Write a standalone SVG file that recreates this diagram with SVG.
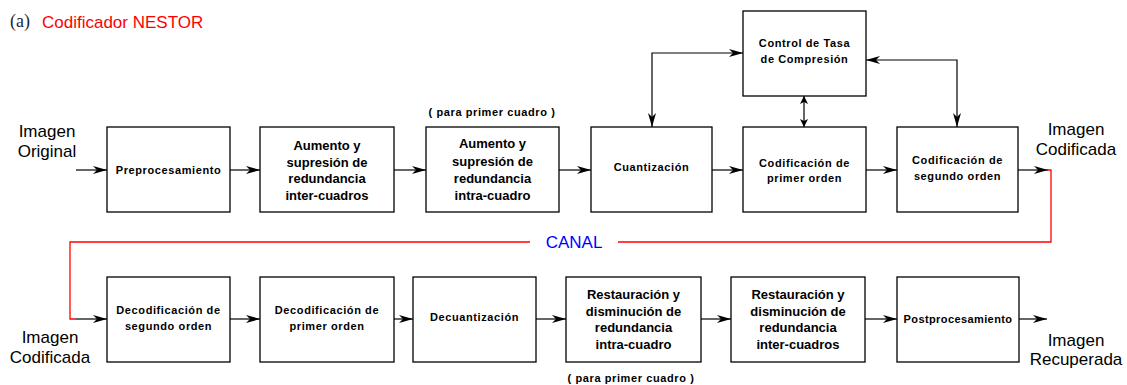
<svg xmlns="http://www.w3.org/2000/svg" width="1127" height="385" viewBox="0 0 1127 385">
<defs>
<style>
.box{fill:#fff;stroke:#000;stroke-width:1.3}
.ln{fill:none;stroke:#000;stroke-width:1.2}
.red{fill:none;stroke:#ff0000;stroke-width:1.3}
.s{font-family:"Liberation Sans",Arial,sans-serif;font-weight:bold;font-size:11px;letter-spacing:0.6px;text-anchor:middle;fill:#000}
.b{font-family:"Liberation Sans",Arial,sans-serif;font-weight:bold;font-size:13px;text-anchor:middle;fill:#000}
.lab{font-family:"Liberation Sans",Arial,sans-serif;font-size:17px;text-anchor:middle;fill:#000}
</style>
<marker id="ah" markerUnits="userSpaceOnUse" markerWidth="16" markerHeight="10" refX="14" refY="5" orient="auto-start-reverse">
<path d="M0,1 L14,5 L0,9 L4,5 z" fill="#000"/>
</marker>
<marker id="ahs" markerUnits="userSpaceOnUse" markerWidth="10" markerHeight="10" refX="8" refY="5" orient="auto-start-reverse">
<path d="M0,1 L8,5 L0,9 L2,5 z" fill="#000"/>
</marker>
</defs>
<rect width="1127" height="385" fill="#fff"/>
<text x="10" y="27" font-family="Liberation Serif,serif" font-size="18" fill="#1a2a40">(a)</text>
<text x="42" y="28" font-family="Liberation Sans,Arial,sans-serif" font-size="17" fill="#ff0000">Codificador NESTOR</text>

<g id="connectors">
<line class="ln" x1="76" y1="170" x2="107" y2="170" marker-end="url(#ah)"/>
<line class="ln" x1="230" y1="170" x2="260" y2="170" marker-end="url(#ah)"/>
<line class="ln" x1="394" y1="170" x2="426" y2="170" marker-end="url(#ah)"/>
<line class="ln" x1="559" y1="170" x2="591" y2="170" marker-end="url(#ah)"/>
<line class="ln" x1="712" y1="170" x2="743" y2="170" marker-end="url(#ah)"/>
<line class="ln" x1="866" y1="170" x2="897" y2="170" marker-end="url(#ah)"/>
<line class="ln" x1="1018" y1="170" x2="1048" y2="170" marker-end="url(#ah)"/>
<path class="ln" d="M652,127 L652,53 L743,53" marker-start="url(#ah)" marker-end="url(#ah)"/>
<path class="ln" d="M866,60 L957,60 L957,127" marker-start="url(#ah)" marker-end="url(#ah)"/>
<line class="ln" x1="804" y1="96" x2="804" y2="127" marker-start="url(#ahs)" marker-end="url(#ahs)"/>
<path class="red" d="M1047,170 L1051,170 L1051,242 L618,242"/>
<path class="red" d="M530,242 L70,242 L70,319 L76,319"/>
<line class="ln" x1="76" y1="319" x2="107" y2="319" marker-end="url(#ah)"/>
<line class="ln" x1="230" y1="319" x2="260" y2="319" marker-end="url(#ah)"/>
<line class="ln" x1="394" y1="319" x2="413" y2="319" marker-end="url(#ah)"/>
<line class="ln" x1="536" y1="319" x2="566" y2="319" marker-end="url(#ah)"/>
<line class="ln" x1="701" y1="319" x2="731" y2="319" marker-end="url(#ah)"/>
<line class="ln" x1="865" y1="319" x2="897" y2="319" marker-end="url(#ah)"/>
<line class="ln" x1="1019" y1="319" x2="1047" y2="319" marker-end="url(#ah)"/>
</g>

<text x="574" y="248" font-family="Liberation Sans,Arial,sans-serif" font-size="17" fill="#0000ff" text-anchor="middle">CANAL</text>

<g id="lbl-in">
<text class="lab" x="47" y="137">Imagen</text>
<text class="lab" x="47" y="157">Original</text>
</g>
<g id="lbl-out">
<text class="lab" x="1076" y="135">Imagen</text>
<text class="lab" x="1076" y="155">Codificada</text>
</g>
<g id="lbl-in2">
<text class="lab" x="50" y="343">Imagen</text>
<text class="lab" x="50" y="363">Codificada</text>
</g>
<g id="lbl-out2">
<text class="lab" x="1076" y="346">Imagen</text>
<text class="lab" x="1076" y="365">Recuperada</text>
</g>

<g id="n-pre">
<rect class="box" x="107" y="127" width="123" height="85"/>
<text class="s" x="168.5" y="174">Preprocesamiento</text>
</g>
<g id="n-inter">
<rect class="box" x="260" y="127" width="134" height="85"/>
<text class="b" x="327" y="150">Aumento y</text>
<text class="b" x="327" y="167">supresión de</text>
<text class="b" x="327" y="183">redundancia</text>
<text class="b" x="327" y="200">inter-cuadros</text>
</g>
<g id="n-intra">
<text class="s" x="492" y="116">( para primer cuadro )</text>
<rect class="box" x="426" y="127" width="133" height="85"/>
<text class="b" x="492.5" y="148">Aumento y</text>
<text class="b" x="492.5" y="166">supresión de</text>
<text class="b" x="492.5" y="183">redundancia</text>
<text class="b" x="492.5" y="200">intra-cuadro</text>
</g>
<g id="n-cuant">
<rect class="box" x="591" y="127" width="121" height="85"/>
<text class="s" x="651.5" y="171">Cuantización</text>
</g>
<g id="n-control">
<rect class="box" x="743" y="11" width="123" height="85"/>
<text class="s" x="804.5" y="47">Control de Tasa</text>
<text class="s" x="804.5" y="63">de Compresión</text>
</g>
<g id="n-cod1">
<rect class="box" x="743" y="127" width="123" height="85"/>
<text class="s" x="804.5" y="167">Codificación de</text>
<text class="s" x="804.5" y="182">primer orden</text>
</g>
<g id="n-cod2">
<rect class="box" x="897" y="127" width="121" height="85"/>
<text class="s" x="957.5" y="164">Codificación de</text>
<text class="s" x="957.5" y="180">segundo orden</text>
</g>

<g id="n-dec2">
<rect class="box" x="107" y="277" width="123" height="85"/>
<text class="s" x="168.5" y="314">Decodificación de</text>
<text class="s" x="168.5" y="330">segundo orden</text>
</g>
<g id="n-dec1">
<rect class="box" x="260" y="277" width="134" height="85"/>
<text class="s" x="327" y="314">Decodificación de</text>
<text class="s" x="327" y="330">primer orden</text>
</g>
<g id="n-decuant">
<rect class="box" x="413" y="277" width="123" height="85"/>
<text class="s" x="474.5" y="321">Decuantización</text>
</g>
<g id="n-rintra">
<rect class="box" x="566" y="277" width="135" height="85"/>
<text class="b" x="633.5" y="299">Restauración y</text>
<text class="b" x="633.5" y="316">disminución de</text>
<text class="b" x="633.5" y="332">redundancia</text>
<text class="b" x="633.5" y="349">intra-cuadro</text>
<text class="s" x="631" y="382">( para primer cuadro )</text>
</g>
<g id="n-rinter">
<rect class="box" x="731" y="277" width="134" height="85"/>
<text class="b" x="798" y="299">Restauración y</text>
<text class="b" x="798" y="316">disminución de</text>
<text class="b" x="798" y="332">redundancia</text>
<text class="b" x="798" y="349">inter-cuadros</text>
</g>
<g id="n-post">
<rect class="box" x="897" y="277" width="122" height="85"/>
<text class="s" x="958" y="323" style="letter-spacing:0.4px">Postprocesamiento</text>
</g>
</svg>
